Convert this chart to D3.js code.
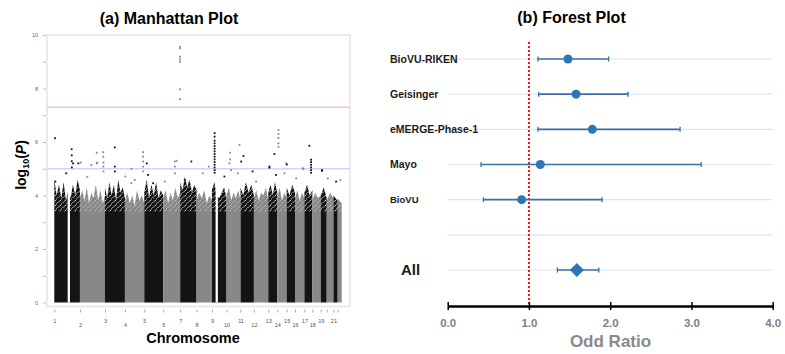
<!DOCTYPE html>
<html><head><meta charset="utf-8">
<script src="https://cdn.jsdelivr.net/npm/d3@7"></script>
<style>body{margin:0;background:#fff;} svg{display:block;font-family:"Liberation Sans",Arial,sans-serif;}</style>
</head><body><svg id="c" width="785" height="354"></svg>
<script>
// ---------------- Manhattan plot data ----------------
const chromosomes = ["1","2","3","4","5","6","7","8","9","10","11","12","13","14","15","16","17","18","19","20","21","22"];
const chrLengths = [257,251,200,194,190,170,164,154,147,140,134,144,90,94,84,94,80,84,60,67,43,40]; // plotted Mb
const chrTickLabels = ["1","2","3","4","5","6","7","8","9","10","11","12","13","14","15","16","17","18","19","","21",""];
// upper envelope of the dense -log10(P) cloud, evenly spaced along each chromosome
const chrProfiles = [
  [4.6,4.0,4.4,3.9,4.5,3.8,4.2,3.9,4.4,4.0,4.6,4.2],
  [3.9,4.2,3.8,4.3,3.7,4.1,3.9,4.4,3.8,4.2,3.7,4.0],
  [4.3,3.9,4.5,4.0,4.4,3.8,4.6,4.1,4.3,3.9],
  [3.8,4.1,3.7,4.0,3.6,4.2,3.8,4.0,3.7],
  [4.1,4.6,3.9,4.4,4.0,4.5,3.9,4.2,4.0],
  [3.9,4.2,3.7,4.1,3.8,4.3,3.9,4.1],
  [4.5,4.2,4.7,4.3,4.6,4.1,4.4,4.2],
  [3.8,4.1,3.9,4.2,3.7,4.0,3.8],
  [4.2,4.5,4.0,3.9,4.1,4.3,3.9],
  [4.0,4.3,3.8,4.1,3.9,4.2,3.8],
  [4.3,4.0,4.5,4.1,4.4,4.0],
  [3.9,4.2,3.8,4.1,4.0,4.3,3.8],
  [4.1,4.4,4.0,4.5,4.1],
  [3.9,4.3,3.8,4.1,3.9],
  [4.3,4.0,4.4,4.1],
  [3.9,4.2,3.8,4.1,3.9],
  [4.1,4.4,4.0,4.2],
  [3.8,4.1,3.9,4.0],
  [4.0,4.3,3.9],
  [3.8,4.1,3.9],
  [4.0,3.8],
  [3.9,3.7]
];
// regions without markers: [chromosome, start Mb, end Mb]
const chrGaps = [["1",134,157],["9",37,60]];
// individual SNPs above the dense cloud: [genome position (cumulative Mb), -log10(P)]
const topSnps = [
  [7,6.14],[10,4.52],[120,4.83],
  [174,5.73],[175,5.50],[175,5.28],[176,5.05],[188,5.20],[241,5.20],
  [265,5.23],[331,4.70],[371,5.14],[425,5.60],[426,5.20],[431,5.23],
  [491,5.62],[491,5.45],[492,5.23],[492,5.08],[493,4.90],
  [606,5.80],[606,5.08],[607,4.90],[712,4.71],[772,4.46],[773,5.00],[806,4.58],
  [890,5.62],[890,5.45],[891,5.27],[891,5.08],[892,4.90],
  [927,5.20],[940,4.77],[990,4.46],[1107,4.52],
  [1208,5.27],[1208,5.08],[1209,4.83],[1226,5.30],
  [1260,9.56],[1260,9.50],[1260,9.19],[1261,9.09],[1261,9.00],[1261,7.97],[1261,7.60],
  [1308,4.58],[1374,5.27],[1488,4.83],[1549,5.08],
  [1607,6.33],[1607,6.20],[1607,6.05],[1607,5.95],[1607,5.85],[1607,5.75],[1607,5.65],[1607,5.55],
  [1607,5.45],[1607,5.35],[1607,5.25],[1607,5.15],[1607,5.05],[1607,4.95],[1607,4.85],
  [1705,4.71],[1755,5.20],[1762,5.60],[1762,5.35],[1772,4.95],[1840,4.83],[1856,5.89],
  [1873,5.27],[1896,5.48],[1988,4.90],[2023,4.52],[2156,5.08],[2157,5.04],[2206,5.55],[2223,4.77],
  [2247,6.45],[2247,6.30],[2247,6.15],[2247,5.95],[2247,5.82],
  [2307,4.83],[2324,5.20],[2331,5.16],[2424,4.64],[2491,5.02],[2497,4.98],[2557,5.86],
  [2574,5.34],[2574,5.25],[2574,5.15],[2574,5.05],[2574,4.95],[2574,4.85],
  [2682,4.92],[2685,4.95],[2742,4.64],[2825,4.52],[2869,4.58]
];
const logPTicks = [0,1,2,3,4,5,6,7,8,9,10];
const genomeWideLine = 7.3;
const suggestiveLine = 5;
const denseCore = 3.4; // below this the cloud is solid

// ---------------- Forest plot data ----------------
const studies = ["BioVU-RIKEN","Geisinger","eMERGE-Phase-1","Mayo","BioVU","","All"];
const oddsRatio = [1.48,1.58,1.78,1.14,0.91,null,1.59];
const ciLower = [1.11,1.12,1.11,0.41,0.44,null,1.35];
const ciUpper = [1.98,2.22,2.86,3.12,1.90,null,1.86];
const orTicks = [0,1,2,3,4];
const nullOR = 1;

const svg = d3.select("#c");

// ================= (a) Manhattan =================
const chrStarts = chrLengths.map((_, i) => d3.sum(chrLengths.slice(0, i)));
const genomeLen = d3.sum(chrLengths);
const xM = d3.scaleLinear().domain([0, genomeLen]).range([54.3, 341.7]);
const yM = d3.scaleLinear().domain([0, 10]).range([302.5, 35]);
const chrColor = i => (i % 2 === 0 ? "#141414" : "#888888");

// speckle textures for the fuzzy upper part of the cloud
const defs = svg.append("defs");
[["speckW", "#ffffff"], ["speckL", "#c8c8c8"]].forEach(([id, c]) => {
  const p = defs.append("pattern").attr("id", id).attr("patternUnits", "userSpaceOnUse")
    .attr("width", 5).attr("height", 5);
  [[0, 0], [2.5, 2], [1, 3.5], [3.8, 0.8]].forEach(([x, y]) =>
    p.append("rect").attr("x", x).attr("y", y).attr("width", 0.9).attr("height", 0.9).attr("fill", c));
});
defs.append("clipPath").attr("id", "upperClip").append("rect")
  .attr("x", 40).attr("y", yM(5)).attr("width", 320).attr("height", yM(denseCore) - yM(5));

svg.append("text").attr("x", 169).attr("y", 24).attr("text-anchor", "middle")
  .attr("font-size", 16).attr("font-weight", "bold").text("(a) Manhattan Plot");

svg.append("rect").attr("x", 47).attr("y", 35).attr("width", 303).attr("height", 271.5)
  .attr("fill", "none").attr("stroke", "#e4e4e4").attr("stroke-width", 1.5);

const gM = svg.append("g");
const area = d3.area().x(d => xM(d[0])).y0(yM(0)).y1(d => yM(d[1]));
chrProfiles.forEach((prof, i) => {
  const s = chrStarts[i], L = chrLengths[i], n = prof.length;
  const pts = prof.map((v, k) => [s + k * L / (n - 1), v]);
  gM.append("path").attr("d", area(pts)).attr("fill", chrColor(i));
  gM.append("path").attr("d", area(pts)).attr("clip-path", "url(#upperClip)")
    .attr("fill", i % 2 === 0 ? "url(#speckW)" : "url(#speckL)");
});
chrGaps.forEach(g => {
  const i = chromosomes.indexOf(g[0]);
  gM.append("rect").attr("x", xM(chrStarts[i] + g[1])).attr("y", yM(4.9))
    .attr("width", xM(chrStarts[i] + g[2]) - xM(chrStarts[i] + g[1]))
    .attr("height", yM(0) - yM(4.9)).attr("fill", "#fff");
});

[[genomeWideLine, "#f7c4b8"], [suggestiveLine, "#d3d3f7"]].forEach(([v, c]) => {
  gM.append("line").attr("x1", 47).attr("x2", 350).attr("y1", yM(v)).attr("y2", yM(v))
    .attr("stroke", c).attr("stroke-width", 1.5);
});

gM.selectAll("rect.snp").data(topSnps).join("rect").attr("class", "snp")
  .attr("x", d => xM(d[0]) - 0.9).attr("y", d => yM(d[1]) - 0.9)
  .attr("width", 1.8).attr("height", 1.8)
  .attr("fill", d => chrColor(d3.bisectRight(chrStarts, d[0]) - 1));

const xAxisM = d3.axisBottom(xM).tickValues(chrStarts).tickSize(3)
  .tickFormat((d, i) => chrTickLabels[i]);
const gxM = svg.append("g").attr("transform", "translate(0,309.5)").call(xAxisM);
gxM.select(".domain").remove();
gxM.selectAll(".tick line").attr("stroke", "#aaa");
gxM.selectAll(".tick text").attr("font-size", 5.5).attr("fill", "#555")
  .attr("y", (d, i) => (i % 2 === 0 ? 10 : 14));

const yAxisM = d3.axisLeft(yM).tickValues(logPTicks).tickSize(3).tickPadding(5)
  .tickFormat(d => (d % 2 === 0 ? d : ""));
const gyM = svg.append("g").attr("transform", "translate(46,0)").call(yAxisM);
gyM.select(".domain").remove();
gyM.selectAll(".tick line").attr("stroke", "#bbb");
gyM.selectAll(".tick text").attr("font-size", 5.5).attr("fill", "#666");

const yl = svg.append("text").attr("transform", "translate(26,165) rotate(-90)")
  .attr("text-anchor", "middle").attr("font-size", 14).attr("font-weight", "bold");
yl.append("tspan").text("log");
yl.append("tspan").attr("font-size", 9).attr("dy", 3).text("10");
yl.append("tspan").attr("dy", -3).text("(");
yl.append("tspan").attr("font-style", "italic").text("P");
yl.append("tspan").text(")");

svg.append("text").attr("x", 193).attr("y", 343).attr("text-anchor", "middle")
  .attr("font-size", 14.5).attr("font-weight", "bold").text("Chromosome");

// ================= (b) Forest =================
const xF = d3.scaleLinear().domain([0, 4]).range([447.7, 772.7]);
const yF = d3.scalePoint().domain(d3.range(studies.length)).range([59, 270]);
const blue = "#2e75b6";

svg.append("text").attr("x", 571.5).attr("y", 23).attr("text-anchor", "middle")
  .attr("font-size", 16).attr("font-weight", "bold").text("(b) Forest Plot");

const gF = svg.append("g");
gF.selectAll("line.grid").data(studies).join("line").attr("class", "grid")
  .attr("x1", xF(0)).attr("x2", xF(4)).attr("y1", (d, i) => yF(i)).attr("y2", (d, i) => yF(i))
  .attr("stroke", "#dbe6f3").attr("stroke-width", 1.2);

gF.selectAll("text.lab").data(studies).join("text").attr("class", "lab")
  .attr("x", (d, i) => (d === "All" ? 401 : 390)).attr("y", (d, i) => yF(i))
  .attr("dy", "0.35em")
  .attr("font-size", d => (d === "All" ? 15 : d === "BioVU" ? 9.5 : 10.5))
  .attr("font-weight", "bold").attr("fill", "#1a1a1a").text(d => d);

gF.append("line").attr("x1", xF(nullOR)).attr("x2", xF(nullOR)).attr("y1", 42).attr("y2", 306)
  .attr("stroke", "#e8141c").attr("stroke-width", 2).attr("stroke-dasharray", "2,2");

const rows = studies.map((s, i) => ({ s, i, or: oddsRatio[i], lo: ciLower[i], hi: ciUpper[i] }))
  .filter(d => d.or !== null);
rows.forEach(d => {
  const y = yF(d.i);
  gF.append("line").attr("x1", xF(d.lo)).attr("x2", xF(d.hi)).attr("y1", y).attr("y2", y)
    .attr("stroke", "#3a6fa8").attr("stroke-width", 1.6);
  [d.lo, d.hi].forEach(v => gF.append("line").attr("x1", xF(v)).attr("x2", xF(v))
    .attr("y1", y - 2.5).attr("y2", y + 2.5).attr("stroke", "#3a6fa8").attr("stroke-width", 1.3));
  if (d.s === "All") {
    const cx = xF(d.or);
    gF.append("path").attr("d", `M${cx - 7},${y}L${cx},${y - 7}L${cx + 7},${y}L${cx},${y + 7}Z`).attr("fill", blue);
  } else {
    gF.append("circle").attr("cx", xF(d.or)).attr("cy", y).attr("r", 4.5).attr("fill", blue);
  }
});

const xAxisF = d3.axisBottom(xF).tickValues(orTicks).tickFormat(d3.format(".1f")).tickSizeOuter(0);
const gxF = svg.append("g").attr("transform", "translate(0,306)").call(xAxisF);
gxF.select(".domain").attr("stroke", "#000").attr("stroke-width", 2.5);
gxF.selectAll(".tick line").attr("y1", -4).attr("y2", 4).attr("stroke", "#000").attr("stroke-width", 1.5);
gxF.selectAll(".tick text").attr("y", 21).attr("dy", 0).attr("font-size", 11.5)
  .attr("font-weight", "bold").attr("fill", "#808080").attr("font-family", "'Liberation Sans',Arial,sans-serif");

svg.append("text").attr("x", 610.5).attr("y", 347).attr("text-anchor", "middle")
  .attr("font-size", 17).attr("font-weight", "bold").attr("fill", "#8a8a8a").text("Odd Ratio");
</script></body></html>
